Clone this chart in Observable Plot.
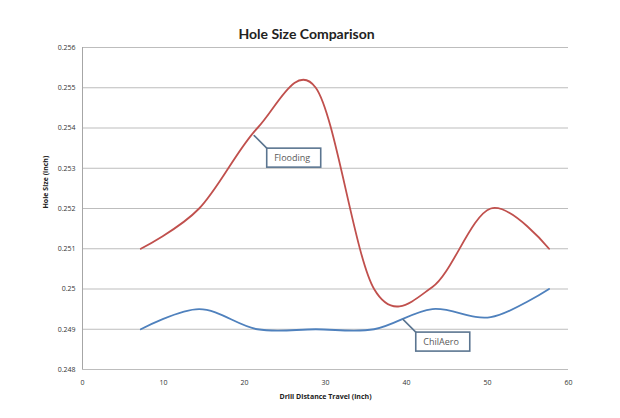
<!DOCTYPE html>
<html>
<head>
<meta charset="utf-8">
<script src="https://cdn.jsdelivr.net/npm/d3@7"></script>
<script src="https://cdn.jsdelivr.net/npm/@observablehq/plot@0.6"></script>
<style>
  body { margin: 0; background: #fff; }
  #chart svg { display: block; }
</style>
</head>
<body>
<div id="chart"></div>
<script>
const distance = [7.2, 14.4, 21.6, 28.8, 36, 43.2, 50.4, 57.6];
const flooding = [0.251, 0.252, 0.254, 0.255, 0.250, 0.25005, 0.252, 0.251];
const chilAero = [0.249, 0.2495, 0.249, 0.249, 0.249, 0.2495, 0.2493, 0.250];
const seriesNames = ["Flooding", "ChilAero"];
const xTicks = [0, 10, 20, 30, 40, 50, 60];
const yTicks = [0.248, 0.249, 0.250, 0.251, 0.252, 0.253, 0.254, 0.255, 0.256];
const calloutLabels = ["Flooding", "ChilAero"];
const calloutX = [21.2, 39.6];
const calloutY = [0.25381, 0.24924];

const rows = [];
distance.forEach((d, i) => {
  rows.push({series: seriesNames[0], x: d, y: flooding[i]});
  rows.push({series: seriesNames[1], x: d, y: chilAero[i]});
});
const colors = {Flooding: "#c0504d", ChilAero: "#4f81bd"};
const idx = calloutLabels.map((_, i) => i);
const boxW = 54, boxH = 19, off = 13;

const fmt = d => String(+d.toFixed(3));

const chart = Plot.plot({
  width: 620,
  height: 418,
  marginLeft: 82,
  marginRight: 52,
  marginTop: 47,
  marginBottom: 49,
  style: {fontFamily: "Open Sans, sans-serif", background: "#fff"},
  x: {domain: [0, 60]},
  y: {domain: [0.248, 0.256]},
  marks: [
    Plot.gridY(yTicks, {stroke: "#bdbdbd", strokeOpacity: 1}),
    Plot.ruleX([0], {stroke: "#a6a6a6"}),
    Plot.axisY(yTicks, {tickSize: 0, tickPadding: 7, tickFormat: fmt, fontSize: 7, fill: "#333", label: null}),
    Plot.axisX(xTicks, {tickSize: 0, tickPadding: 11, fontSize: 7, fill: "#333", label: null}),
    Plot.line(rows, {x: "x", y: "y", z: "series", stroke: d => colors[d.series], curve: "cardinal", strokeWidth: 1.8}),
    Plot.vector(idx, {
      x: i => calloutX[i], y: i => calloutY[i], anchor: "start",
      length: off * Math.SQRT2, rotate: 135, stroke: "#5b7590", strokeWidth: 1.6,
      shape: {draw(ctx, l) { ctx.moveTo(0, 0); ctx.lineTo(0, -l); }}
    }),
    Plot.rect(idx, {
      x1: i => calloutX[i], x2: i => calloutX[i], y1: i => calloutY[i], y2: i => calloutY[i],
      insetLeft: off, insetRight: -(off + boxW), insetTop: off, insetBottom: -(off + boxH),
      fill: "#fff", stroke: "#5b7590", strokeWidth: 1.6
    }),
    Plot.text(idx, {
      x: i => calloutX[i], y: i => calloutY[i], text: i => calloutLabels[i],
      dx: off + 7, dy: off + boxH / 2, textAnchor: "start", fontSize: 9, fill: "#595959"
    }),
    Plot.text(["Hole Size Comparison"], {frameAnchor: "top", dx: -19, dy: -18, fontSize: 14, fontFamily: "Lato, sans-serif", fontWeight: "bold", fill: "#222"}),
    Plot.text(["Drill Distance Travel (inch)"], {frameAnchor: "bottom", dy: 29, fontSize: 7, fontWeight: "bold", fill: "#222"}),
    Plot.text(["Hole Size (inch)"], {frameAnchor: "left", dx: -37, rotate: -90, fontSize: 7, fontWeight: "bold", fill: "#222"})
  ]
});
document.getElementById("chart").appendChild(chart);
</script>
</body>
</html>
